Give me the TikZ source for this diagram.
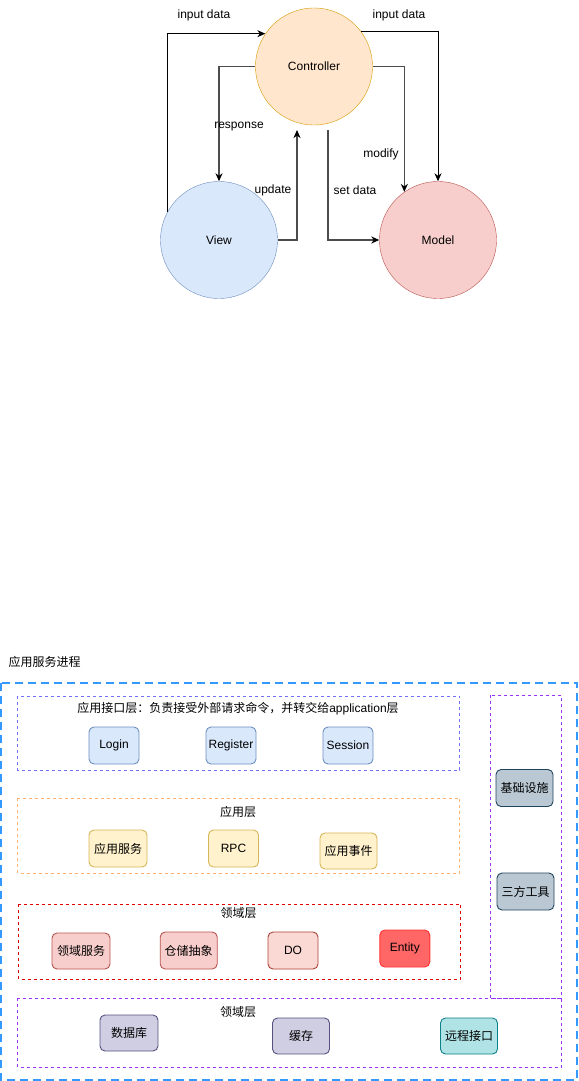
\documentclass[tikz,border=0pt]{standalone}
\usepackage{fontspec}
\setmainfont{Liberation Sans}
\newfontfamily\cjk{Noto Sans CJK SC}
\usetikzlibrary{arrows.meta}
\definecolor{ctrlfill}{HTML}{FFE6CC}\definecolor{ctrldraw}{HTML}{D79B00}
\definecolor{bluefill}{HTML}{DAE8FC}\definecolor{bluedraw}{HTML}{6C8EBF}
\definecolor{redfill}{HTML}{F8CECC}\definecolor{reddraw}{HTML}{B85450}
\definecolor{yelfill}{HTML}{FFF2CC}\definecolor{yeldraw}{HTML}{D6B656}
\definecolor{dofill}{HTML}{FAD9D5}\definecolor{dodraw}{HTML}{AE4132}
\definecolor{entfill}{HTML}{FF6666}\definecolor{entdraw}{HTML}{FF3333}
\definecolor{greyfill}{HTML}{BAC8D3}\definecolor{greydraw}{HTML}{23445D}
\definecolor{purfill}{HTML}{D0CEE2}\definecolor{purdraw}{HTML}{56517E}
\definecolor{tealfill}{HTML}{B0E3E6}\definecolor{tealdraw}{HTML}{0E8088}
\definecolor{outerblue}{HTML}{3399FF}
\definecolor{ifline}{HTML}{7070FF}
\definecolor{appline}{HTML}{FFB570}
\definecolor{domline}{HTML}{DD0000}
\definecolor{infline}{HTML}{9933FF}

\begin{document}
\begin{tikzpicture}[x=1pt,y=-1pt]
	\tikzstyle{every node}=[font=\fontsize{12}{14}\selectfont]
	\tikzstyle{ball}=[circle,draw,minimum size=117pt,inner sep=0pt]
	\tikzstyle{flow}=[-{Stealth[length=8pt,width=7pt,inset=2.5pt,black]},line width=0.9pt]
	\tikzstyle{soft}=[draw=black!70,line width=1.2pt]
	\tikzstyle{layer}=[line width=0.9pt,dash pattern=on 3pt off 3pt]
	\tikzstyle{item}=[draw,line width=0.9pt,rounded corners=5pt,minimum width=50pt,minimum height=37pt,inner sep=1pt]
	\useasboundingbox (0,0) rectangle (578,1081);

	% MVC
	\node[ball,fill=ctrlfill,draw=ctrldraw] (ctrl) at (314,66.5) {Controller};
	\node[ball,fill=bluefill,draw=bluedraw] (view) at (219,240) {View};
	\node[ball,fill=redfill,draw=reddraw] (model) at (438,240) {Model};
	\coordinate (sd) at (328,130);
	\coordinate (up) at (297,130);

	\draw [flow] (view.151) |- (ctrl.146);
	\draw [flow] (ctrl.37) -| (model.north);
	\draw [flow,soft] (ctrl.west) -| (view.north);
	\draw [flow,soft] (ctrl.east) -| (model.125.5);
	\draw [flow,soft] (sd) |- (model.west);
	\draw [flow,soft] (view.east) -| (up);

	\node (in1) at (204,15) {input data};
	\node (in2) at (399,15) {input data};
	\node (resp) at (239,127) {response};
	\node (upd) at (273,190) {update};
	\node (mod) at (381,154) {modify};
	\node (set) at (355,190) {set data};

	% 应用服务进程
	\node[anchor=west] (proc) at (5,662) {\cjk 应用服务进程};
	\draw [outerblue,line width=1.5pt,dash pattern=on 8pt off 5pt] (0.75,683) rectangle (577,1080);

	\draw [layer,ifline] (17.5,696) rectangle (459.5,770);
	\node (iftitle) at (238,709) {{\cjk 应用接口层：负责接受外部请求命令，并转交给}application{\cjk 层}};
	\node[item,fill=bluefill,draw=bluedraw] (login) at (114,745.5) {Login};
	\node[item,fill=bluefill,draw=bluedraw] (reg) at (231,745.5) {Register};
	\node[item,fill=bluefill,draw=bluedraw] (sess) at (348,745.5) {Session};

	\draw [layer,appline] (17.5,798) rectangle (459.5,873);
	\node (apptitle) at (238,812) {\cjk 应用层};
	\node[item,fill=yelfill,draw=yeldraw,minimum width=58pt] (appsvc) at (118,848.5) {\cjk 应用服务};
	\node[item,fill=yelfill,draw=yeldraw] (rpc) at (233.5,848.5) {RPC};
	\node[item,fill=yelfill,draw=yeldraw,minimum width=57pt,minimum height=36pt] (appevt) at (348.5,851) {\cjk 应用事件};

	\draw [layer,domline] (18.5,904) rectangle (460.5,979);
	\node (domtitle) at (238.5,913) {\cjk 领域层};
	\node[item,fill=redfill,draw=reddraw,minimum width=58pt,minimum height=36pt] (domsvc) at (81,951) {\cjk 领域服务};
	\node[item,fill=redfill,draw=reddraw,minimum width=57pt] (repo) at (188.7,950.5) {\cjk 仓储抽象};
	\node[item,fill=dofill,draw=dodraw] (do) at (293,950.5) {DO};
	\node[item,fill=entfill,draw=entdraw] (ent) at (404.8,948.5) {Entity};

	\draw [layer,infline] (490,695) rectangle (561.7,998);
	\node[item,fill=greyfill,draw=greydraw,minimum width=57pt] (base) at (524.5,788) {\cjk 基础设施};
	\node[item,fill=greyfill,draw=greydraw,minimum width=57pt] (tool) at (525.5,891.5) {\cjk 三方工具};

	\draw [layer,infline] (17.7,998) rectangle (561.7,1067);
	\node (inftitle) at (238,1012) {\cjk 领域层};
	\node[item,fill=purfill,draw=purdraw,minimum width=58pt,minimum height=36pt] (db) at (129,1033) {\cjk 数据库};
	\node[item,fill=purfill,draw=purdraw,minimum width=57pt,minimum height=36pt] (cache) at (301,1036) {\cjk 缓存};
	\node[item,fill=tealfill,draw=tealdraw,minimum width=57pt,minimum height=36pt] (remote) at (469,1036) {\cjk 远程接口};
\end{tikzpicture}
\end{document}
